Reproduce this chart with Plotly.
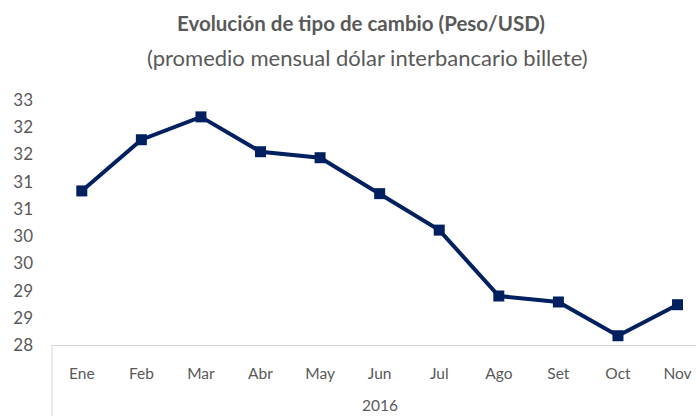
import plotly.graph_objects as go

months = ["Ene", "Feb", "Mar", "Abr", "May", "Jun", "Jul", "Ago", "Set", "Oct", "Nov"]
values = [30.83, 31.77, 32.19, 31.55, 31.44, 30.78, 30.11, 28.90, 28.79, 28.17, 28.74]
ytick_vals = [28, 28.5, 29, 29.5, 30, 30.5, 31, 31.5, 32, 32.5]
ytick_text = ["28", "29", "29", "30", "30", "31", "31", "32", "32", "33"]
year_label = "2016"
title_main = "Evolución de tipo de cambio (Peso/USD)"
title_sub = "(promedio mensual dólar interbancario billete)"

FONT = "Lato"
GREY = "#595959"
NAVY = "#002060"

W, H = 696, 416
L, R, T, B = 52, 0, 100, 71

fig = go.Figure()
fig.add_trace(go.Scatter(
    x=list(range(len(months))), y=values, mode="lines+markers",
    line=dict(color=NAVY, width=4),
    marker=dict(symbol="square", size=11, color=NAVY),
    cliponaxis=False, hoverinfo="skip",
))

fig.update_layout(
    width=W, height=H,
    margin=dict(l=L, r=R, t=T, b=B, pad=0),
    paper_bgcolor="white", plot_bgcolor="white",
    showlegend=False,
    font=dict(family=FONT, color=GREY, size=16),
    xaxis=dict(
        range=[-0.5, 10.31], tickmode="array",
        tickvals=list(range(len(months))), ticktext=months,
        showgrid=False, zeroline=False,
        showline=True, linecolor="#d9d9d9", linewidth=1,
        ticks="", ticklabelstandoff=14,
        tickfont=dict(family=FONT, size=15.5, color=GREY),
    ),
    yaxis=dict(
        range=[28, 32.5], tickmode="array",
        tickvals=ytick_vals, ticktext=ytick_text,
        showgrid=False, zeroline=False, showline=False,
        ticks="", ticklabelstandoff=18,
        tickfont=dict(family=FONT, size=17, color=GREY),
    ),
)

# category group separator line (left edge of the year box)
fig.add_shape(type="line", xref="paper", yref="paper",
              x0=0, x1=0, y0=0, y1=-B / (H - T - B) - 0.02,
              line=dict(color="#d9d9d9", width=1))

pw = W - L - R
ph = H - T - B
def px_x(x):
    return (x - L) / pw
def px_y(y):
    return (H - B - y) / ph

fig.add_annotation(text=year_label, xref="paper", yref="paper",
                   x=px_x(380), y=px_y(405), showarrow=False,
                   xanchor="center", yanchor="middle",
                   font=dict(family=FONT, size=15.5, color=GREY))
fig.add_annotation(text="<b>" + title_main + "</b>", xref="paper", yref="paper",
                   x=px_x(361), y=px_y(23), showarrow=False,
                   xanchor="center", yanchor="middle",
                   font=dict(family=FONT, size=20.5, color=GREY))
fig.add_annotation(text=title_sub, xref="paper", yref="paper",
                   x=px_x(367), y=px_y(58), showarrow=False,
                   xanchor="center", yanchor="middle",
                   font=dict(family=FONT, size=22, color=GREY))

fig.write_html("out.html", config={"displayModeBar": False},
               post_script="document.body.style.margin='0';")
